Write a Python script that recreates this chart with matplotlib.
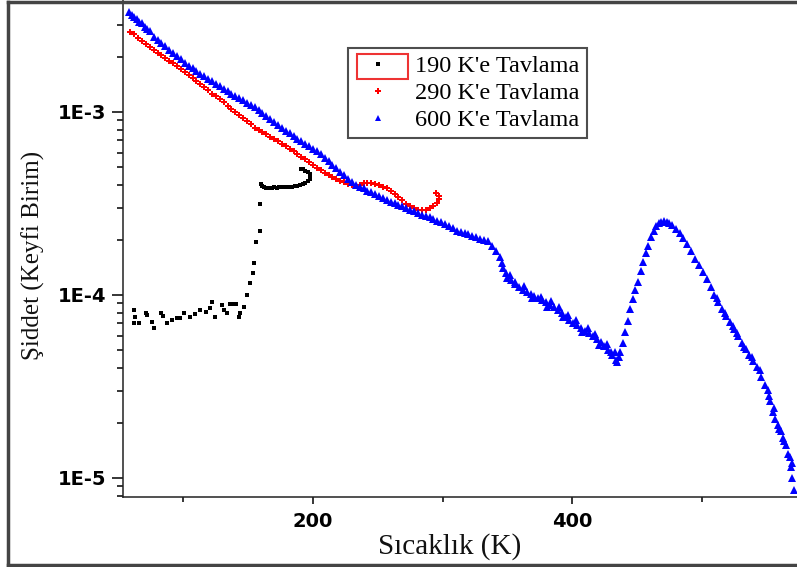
import matplotlib
matplotlib.use('Agg')
import matplotlib.pyplot as plt
from matplotlib.ticker import LogLocator, MultipleLocator, FixedLocator, FixedFormatter, NullFormatter
from matplotlib.lines import Line2D
from matplotlib.patches import Rectangle

# 190 K'e Tavlama (black squares)
t_190 = [61.8, 61.8, 62.5, 65.6, 70.8, 72.0, 75.9, 77.2, 82.3, 84.0, 87.5, 91.0, 95.2, 97.0,
         100.2, 105.4, 109.0, 113.1, 117.0, 120.8, 122.0, 124.6, 129.8, 131.0, 133.6, 136.0,
         138.7, 140.5, 142.5, 144.0, 146.4, 149.0, 151.5, 153.6, 154.6, 156.2, 158.7, 158.7,
         160.0, 161.0, 162.5, 164.0, 166.0, 168.0, 170.0, 172.0, 174.0, 176.0, 178.0, 180.0,
         182.0, 184.0, 186.0, 188.0, 190.0, 192.0, 194.0, 196.0, 197.5, 198.0, 197.5, 196.0,
         194.0, 192.0, 190.5]
v_190 = [8.28e-5, 7.0e-5, 7.6e-5, 7.0e-5, 7.94e-5, 7.8e-5, 7.15e-5, 6.57e-5, 7.94e-5, 7.7e-5,
         7.0e-5, 7.3e-5, 7.46e-5, 7.5e-5, 7.94e-5, 7.62e-5, 7.9e-5, 8.28e-5, 8.1e-5, 8.46e-5,
         9.2e-5, 7.62e-5, 8.8e-5, 8.3e-5, 7.94e-5, 8.9e-5, 8.92e-5, 8.9e-5, 7.62e-5, 8.0e-5,
         8.62e-5, 1.0e-4, 1.16e-4, 1.31e-4, 1.49e-4, 1.94e-4, 2.24e-4, 3.13e-4,
         4.05e-4, 3.95e-4, 3.88e-4, 3.85e-4, 3.84e-4, 3.85e-4, 3.87e-4, 3.86e-4, 3.87e-4,
         3.89e-4, 3.9e-4, 3.9e-4, 3.89e-4, 3.9e-4, 3.92e-4, 3.95e-4, 3.98e-4, 4.03e-4,
         4.1e-4, 4.2e-4, 4.32e-4, 4.45e-4, 4.58e-4, 4.68e-4, 4.78e-4, 4.85e-4, 4.9e-4]

# 290 K'e Tavlama (red)
t_290 = [59, 62, 65, 68, 71, 74, 77, 80, 83, 86, 89, 92, 95, 98, 101, 104, 107, 110, 113, 116,
         119, 122, 125, 128, 131, 134, 137, 140, 143, 146, 149, 152, 155, 158, 161, 164, 167,
         170, 173, 176, 179, 182, 185, 188, 191, 194, 197, 200, 203, 206, 209, 212, 215, 218,
         221, 224, 227, 230, 233, 236, 239, 242, 245, 248, 251, 254, 257, 260, 263, 266, 269,
         272, 275, 278, 281, 284, 287, 290, 293, 296, 297.5, 297, 295]
v_290 = [2.75e-3, 2.65e-3, 2.55e-3, 2.45e-3, 2.36e-3, 2.27e-3, 2.18e-3, 2.11e-3, 2.04e-3,
         1.97e-3, 1.91e-3, 1.84e-3, 1.78e-3, 1.72e-3, 1.66e-3, 1.60e-3, 1.54e-3, 1.48e-3,
         1.42e-3, 1.37e-3, 1.32e-3, 1.26e-3, 1.22e-3, 1.17e-3, 1.13e-3, 1.08e-3, 1.04e-3,
         1.00e-3, 9.62e-4, 9.25e-4, 8.89e-4, 8.55e-4, 8.22e-4, 7.98e-4, 7.74e-4, 7.53e-4,
         7.31e-4, 7.11e-4, 6.90e-4, 6.71e-4, 6.52e-4, 6.31e-4, 6.10e-4, 5.89e-4, 5.69e-4,
         5.50e-4, 5.31e-4, 5.13e-4, 4.95e-4, 4.79e-4, 4.65e-4, 4.51e-4, 4.40e-4, 4.30e-4,
         4.21e-4, 4.12e-4, 4.05e-4, 3.98e-4, 3.92e-4, 3.98e-4, 4.07e-4, 4.09e-4, 4.08e-4,
         4.06e-4, 4.00e-4, 3.91e-4, 3.82e-4, 3.70e-4, 3.57e-4, 3.44e-4, 3.30e-4, 3.16e-4,
         3.08e-4, 2.99e-4, 2.92e-4, 2.90e-4, 2.92e-4, 2.97e-4, 3.05e-4, 3.20e-4, 3.33e-4,
         3.47e-4, 3.59e-4]

# 600 K'e Tavlama (blue), last entries are the scattered points of the noisy parts
t_600 = [58, 60, 62, 64, 66, 68, 70, 72, 74, 77, 80, 83, 86, 89, 92, 95, 98, 101, 104, 107,
         110, 113, 116, 119, 122, 125, 128, 131, 134, 137, 140, 143, 146, 149, 152, 155, 158,
         161, 164, 167, 170, 173, 176, 179, 182, 185, 188, 191, 194, 197, 200, 203, 206, 209,
         212, 215, 218, 221, 224, 227, 230, 233, 236, 239, 242, 245, 248, 251, 254, 257, 260,
         263, 266, 269, 272, 275, 278, 281, 284, 287, 290, 293, 296, 299, 302, 305, 308, 311,
         314, 317, 320, 323, 326, 329, 332, 335, 338, 341, 344, 347, 350, 353, 356, 359, 362,
         365, 368, 371, 374, 377, 380, 383, 386, 389, 392, 395, 398, 401, 404, 407, 410, 413,
         416, 419, 422, 425, 428, 431, 434, 435, 437, 439, 441, 443, 445, 447, 449, 451, 453,
         455, 457, 459, 461, 463, 465, 467, 469, 471, 473, 475, 477, 480, 483, 486, 489, 492,
         495, 498, 501, 504, 507, 510, 513, 516, 519, 522, 525, 528, 531, 534, 537, 540, 543,
         546, 549, 551, 553, 555, 557, 559, 561, 563, 565, 567, 569, 570, 571,
         346, 349, 352, 356, 363, 369, 376, 381, 384, 390, 393, 397, 403, 408, 412, 418, 421,
         427, 430, 433, 436, 512, 518, 524, 527, 533, 539, 545, 552, 556, 560, 564, 568, 570]
v_600 = [3.51e-3, 3.39e-3, 3.30e-3, 3.22e-3, 3.12e-3, 3.05e-3, 2.93e-3, 2.85e-3, 2.76e-3,
         2.58e-3, 2.47e-3, 2.37e-3, 2.28e-3, 2.19e-3, 2.10e-3, 2.01e-3, 1.94e-3, 1.86e-3,
         1.79e-3, 1.73e-3, 1.68e-3, 1.62e-3, 1.57e-3, 1.52e-3, 1.47e-3, 1.43e-3, 1.38e-3,
         1.34e-3, 1.30e-3, 1.26e-3, 1.22e-3, 1.19e-3, 1.16e-3, 1.12e-3, 1.09e-3, 1.06e-3,
         1.02e-3, 9.82e-4, 9.46e-4, 9.12e-4, 8.79e-4, 8.49e-4, 8.18e-4, 7.89e-4, 7.64e-4,
         7.40e-4, 7.15e-4, 6.92e-4, 6.70e-4, 6.49e-4, 6.28e-4, 6.08e-4, 5.86e-4, 5.61e-4,
         5.37e-4, 5.14e-4, 4.92e-4, 4.71e-4, 4.51e-4, 4.32e-4, 4.13e-4, 4.01e-4, 3.91e-4,
         3.82e-4, 3.72e-4, 3.63e-4, 3.55e-4, 3.47e-4, 3.38e-4, 3.30e-4, 3.24e-4, 3.18e-4,
         3.11e-4, 3.05e-4, 2.99e-4, 2.93e-4, 2.87e-4, 2.81e-4, 2.75e-4, 2.70e-4, 2.65e-4,
         2.60e-4, 2.55e-4, 2.49e-4, 2.43e-4, 2.37e-4, 2.31e-4, 2.25e-4, 2.21e-4, 2.18e-4,
         2.14e-4, 2.10e-4, 2.07e-4, 2.03e-4, 2.00e-4, 1.96e-4, 1.86e-4, 1.74e-4, 1.62e-4,
         1.41e-4, 1.24e-4, 1.20e-4, 1.15e-4, 1.10e-4, 1.06e-4, 1.04e-4, 1.01e-4, 9.89e-5,
         9.66e-5, 9.40e-5, 9.12e-5, 8.83e-5, 8.55e-5, 8.24e-5, 7.93e-5, 7.62e-5, 7.33e-5,
         7.06e-5, 6.82e-5, 6.61e-5, 6.38e-5, 6.18e-5, 5.94e-5, 5.71e-5, 5.50e-5, 5.28e-5,
         5.01e-5, 4.70e-5, 4.42e-5, 4.32e-5, 4.90e-5, 5.45e-5, 6.31e-5, 7.24e-5, 8.41e-5,
         9.55e-5, 1.06e-4, 1.17e-4, 1.35e-4, 1.51e-4, 1.69e-4, 1.86e-4, 2.07e-4, 2.24e-4,
         2.37e-4, 2.47e-4, 2.51e-4, 2.52e-4, 2.50e-4, 2.46e-4, 2.41e-4, 2.29e-4, 2.17e-4,
         2.06e-4, 1.91e-4, 1.74e-4, 1.58e-4, 1.45e-4, 1.33e-4, 1.22e-4, 1.10e-4, 1.00e-4,
         9.12e-5, 8.39e-5, 7.71e-5, 7.08e-5, 6.49e-5, 5.94e-5, 5.45e-5, 5.05e-5, 4.68e-5,
         4.35e-5, 4.03e-5, 3.58e-5, 3.24e-5, 3.02e-5, 2.63e-5, 2.29e-5, 2.09e-5, 1.95e-5,
         1.80e-5, 1.66e-5, 1.51e-5, 1.36e-5, 1.15e-5, 1.0e-5, 8.6e-6,
         1.50e-4, 1.32e-4, 1.28e-4, 1.18e-4, 1.12e-4, 9.6e-5, 9.8e-5, 8.6e-5, 9.3e-5, 8.6e-5,
         7.6e-5, 7.8e-5, 7.3e-5, 6.3e-5, 6.6e-5, 6.1e-5, 5.3e-5, 5.4e-5, 4.9e-5, 4.9e-5,
         4.6e-5, 9.6e-5, 8.0e-5, 6.8e-5, 6.2e-5, 5.2e-5, 4.6e-5, 3.9e-5, 2.8e-5, 2.4e-5,
         1.85e-5, 1.6e-5, 1.3e-5, 1.2e-5]

labels = ["190 K'e Tavlama", "290 K'e Tavlama", "600 K'e Tavlama"]
y_ticks = [1e-5, 1e-4, 1e-3]
y_tick_labels = ['1E-5', '1E-4', '1E-3']

W, H = 797, 567
fig = plt.figure(figsize=(W / 100, H / 100), dpi=100)
ax = fig.add_axes([123 / W, 1 - 497 / H, 1 - 123 / W, 497 / H])

ax.plot(t_190, v_190, ls='none', marker='s', ms=3.4, color='black', mew=0, label=labels[0])
ax.plot(t_290, v_290, ls='none', marker='P', ms=4.6, color='red', mew=0, label=labels[1])
ax.plot(t_600, v_600, ls='none', marker='^', ms=5.4, color='blue', mew=0, label=labels[2])

ax.set_yscale('log')
ax.set_xlim(53.3, 573.7)
ax.set_ylim(7.87e-6, 4.09e-3)

ax.xaxis.set_major_locator(MultipleLocator(200))
ax.xaxis.set_minor_locator(MultipleLocator(100))
ax.yaxis.set_major_locator(FixedLocator(y_ticks))
ax.yaxis.set_major_formatter(FixedFormatter(y_tick_labels))
ax.yaxis.set_minor_locator(LogLocator(base=10, subs=range(2, 10)))
ax.yaxis.set_minor_formatter(NullFormatter())

for s in ['top', 'right']:
    ax.spines[s].set_visible(False)
for s in ['left', 'bottom']:
    ax.spines[s].set_linewidth(1.1)
    ax.spines[s].set_color('#222222')

ax.tick_params(axis='y', which='major', direction='out', length=8, width=1.1, pad=4)
ax.tick_params(axis='y', which='minor', direction='out', length=4, width=1.1)
ax.tick_params(axis='x', which='major', direction='out', length=5, width=1.1, pad=6)
ax.tick_params(axis='x', which='minor', direction='out', length=3.5, width=1.1)
for lab in ax.get_xticklabels() + ax.get_yticklabels():
    lab.set_fontfamily('DejaVu Sans')
    lab.set_fontweight('bold')
    lab.set_fontsize(14)

fig.text(450 / W, 1 - 547 / H, 'Sıcaklık (K)', family='Liberation Serif', fontsize=21,
         ha='center', va='center', color='#111111')
fig.text(33 / W, 1 - 255 / H, 'Şiddet (Keyfi Birim)', family='Liberation Serif', fontsize=18,
         ha='center', va='center', rotation=90, color='#111111')

leg = ax.legend(loc='upper left', bbox_to_anchor=(348 / W, 1 - 48 / H), bbox_transform=fig.transFigure,
                borderaxespad=0, frameon=True, fancybox=False, prop={'family': 'Liberation Serif', 'size': 17.5},
                handlelength=1.9, handletextpad=0.55, borderpad=0.3, labelspacing=0.2, markerscale=0.8)
leg.get_frame().set_edgecolor('#222222')
leg.get_frame().set_linewidth(1.5)

# selection box around the first legend symbol
fig.add_artist(Rectangle((357 / W, 1 - 79 / H), 51 / W, 25 / H, transform=fig.transFigure,
                         fill=False, edgecolor='#ee3333', lw=1.5))

# outer frame of the picture
frame_kw = dict(transform=fig.transFigure, color='#444444', lw=2.5)
fig.add_artist(Line2D([8 / W, 8 / W], [1 - 565 / H, 1 - 2 / H], **frame_kw))
fig.add_artist(Line2D([8 / W, 1], [1 - 2 / H, 1 - 2 / H], **frame_kw))
fig.add_artist(Line2D([8 / W, 1], [1 - 565 / H, 1 - 565 / H], **frame_kw))

fig.savefig('out.png', dpi=100)
